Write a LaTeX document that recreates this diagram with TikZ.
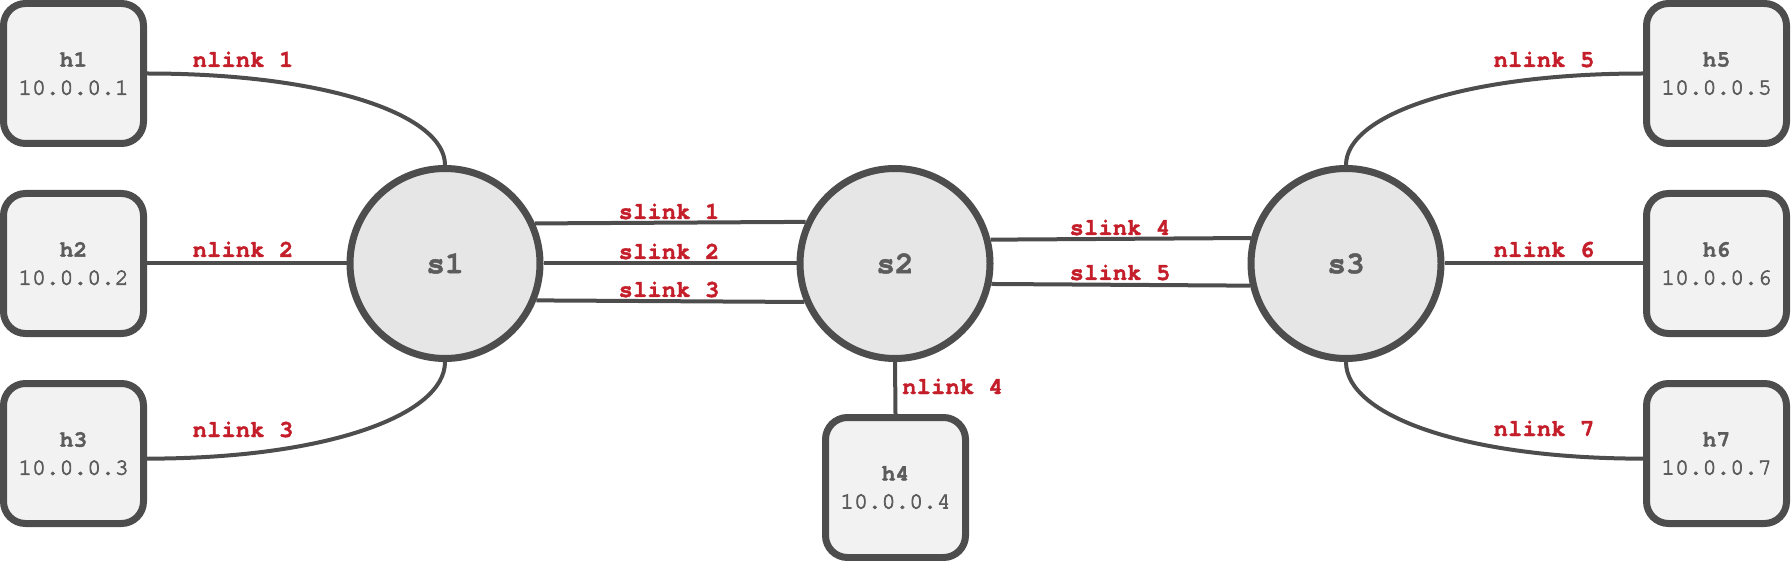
\documentclass[tikz,border=0pt]{standalone}
\usepackage{fontspec}
\newfontfamily\cour{TeX Gyre Cursor}
\newfontfamily\courB{TeX Gyre Cursor}[BoldFeatures={FakeBold=1.5}]
\newfontfamily\courmid{TeX Gyre Cursor}[FakeBold=3]
\usetikzlibrary{calc}
\definecolor{edgegray}{RGB}{77,77,77}
\definecolor{boxfill}{RGB}{242,242,242}
\definecolor{swfill}{RGB}{230,230,230}
\definecolor{txtgray}{RGB}{92,92,92}
\definecolor{lblred}{RGB}{196,30,42}
\begin{document}
\begin{tikzpicture}[x=1pt,y=-1pt,
  host/.style={draw=edgegray, fill=boxfill, line width=7pt, rounded corners=22pt,
    minimum width=140pt, minimum height=140pt, inner sep=0pt, align=center,
    text=txtgray, font=\courmid\fontsize{23}{28}\selectfont},
  switch/.style={circle, draw=edgegray, fill=swfill, line width=7pt,
    minimum size=190pt, inner sep=0pt, text=txtgray,
    font=\courB\bfseries\fontsize{31}{36}\selectfont},
  link/.style={draw=edgegray, line width=4pt},
  lbl/.style={text=lblred, font=\courB\bfseries\fontsize{24}{28}\selectfont,
    inner sep=0pt, anchor=base}]
\useasboundingbox (0,0) rectangle (1791,561);
% hosts
\node[host] (h1) at (73.5,73.5)   {{\courB\bfseries h1}\\10.0.0.1};
\node[host] (h2) at (73.5,263.5)  {{\courB\bfseries h2}\\10.0.0.2};
\node[host] (h3) at (73.5,453.5)  {{\courB\bfseries h3}\\10.0.0.3};
\node[host] (h4) at (895.5,487.5) {{\courB\bfseries h4}\\10.0.0.4};
\node[host] (h5) at (1716.5,73.5)  {{\courB\bfseries h5}\\10.0.0.5};
\node[host] (h6) at (1716.5,263.5) {{\courB\bfseries h6}\\10.0.0.6};
\node[host] (h7) at (1716.5,453.5) {{\courB\bfseries h7}\\10.0.0.7};
% switches
\node[switch] (s1) at (445,263.5)  {s1};
\node[switch] (s2) at (895,263.5)  {s2};
\node[switch] (s3) at (1346,263.5) {s3};
% host links
\draw[link] (h1.east) .. controls +(180,0) and +(0,-50) .. (s1.north);
\draw[link] (h2.east) -- (s1.west);
\draw[link] (h3.-4.3) .. controls +(180,0) and +(0,53) .. (s1.south);
\draw[link] (s2.south) -- (h4.north);
\draw[link] (s3.north) .. controls +(0,-50) and +(-180,0) .. (h5.west);
\draw[link] (s3.east) -- (h6.west);
\draw[link] (s3.south) .. controls +(0,53) and +(-180,0) .. (h7.184.3);
% switch links
\draw[link] (s1.24.28) -- (s2.155.72);
\draw[link] (s1.east) -- (s2.west);
\draw[link] (s1.-22.38) -- (s2.-157.62);
\draw[link] (s2.14.40) -- (s3.165.60);
\draw[link] (s2.-12.61) -- (s3.-167.39);
% labels
\node[lbl] (l1) at (243,67)  {nlink 1};
\node[lbl] (l2) at (243,257) {nlink 2};
\node[lbl] (l3) at (243,437) {nlink 3};
\node[lbl, anchor=base west] (l4) at (902,394) {nlink 4};
\node[lbl] (l5) at (1544,67)  {nlink 5};
\node[lbl] (l6) at (1544,257) {nlink 6};
\node[lbl] (l7) at (1544,436) {nlink 7};
\node[lbl] (k1) at (669,219)  {slink 1};
\node[lbl] (k2) at (669,259)  {slink 2};
\node[lbl] (k3) at (669,297)  {slink 3};
\node[lbl] (k4) at (1120,235) {slink 4};
\node[lbl] (k5) at (1120,280) {slink 5};
\end{tikzpicture}
\end{document}
